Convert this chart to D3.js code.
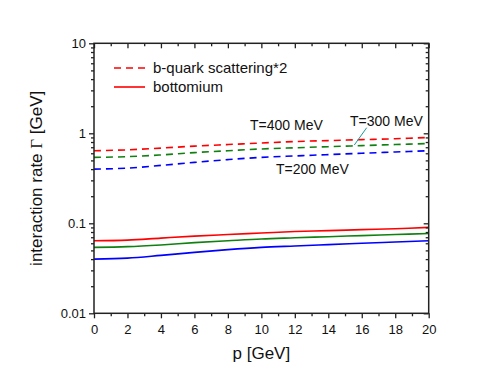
<!DOCTYPE html>
<html>
<head>
<meta charset="utf-8">
<script src="https://cdn.jsdelivr.net/npm/d3@7"></script>
<style>
  body { margin: 0; background: #fff; }
  text { font-family: "Liberation Sans", Arial, sans-serif; fill: #111; }
</style>
</head>
<body>
<script>
// momentum grid (GeV)
var pValues = [0, 2, 4, 6, 8, 10, 12, 14, 16, 18, 20];

// b-quark scattering * 2 (dashed)
var scatT400 = [0.64, 0.655, 0.685, 0.72, 0.75, 0.78, 0.81, 0.83, 0.85, 0.87, 0.90];
var scatT300 = [0.54, 0.55, 0.575, 0.61, 0.64, 0.67, 0.69, 0.71, 0.73, 0.75, 0.77];
var scatT200 = [0.40, 0.41, 0.44, 0.475, 0.51, 0.54, 0.56, 0.58, 0.60, 0.62, 0.64];

// bottomium (solid)
var bottT400 = [0.064, 0.065, 0.0685, 0.072, 0.075, 0.078, 0.081, 0.083, 0.085, 0.087, 0.090];
var bottT300 = [0.054, 0.055, 0.0575, 0.061, 0.064, 0.067, 0.069, 0.071, 0.073, 0.075, 0.077];
var bottT200 = [0.040, 0.041, 0.044, 0.0475, 0.051, 0.054, 0.056, 0.058, 0.060, 0.062, 0.064];

var xMajor = [0, 2, 4, 6, 8, 10, 12, 14, 16, 18, 20];
var xMinor = [1, 3, 5, 7, 9, 11, 13, 15, 17, 19];
var yMajor = [0.01, 0.1, 1, 10];
var yLabels = ['0.01', '0.1', '1', '10'];

var W = 491, H = 376;
var pL = 94, pR = 428.7, pT = 43.3, pB = 313.3;

var svg = d3.select('body').append('svg')
    .attr('width', W)
    .attr('height', H);

var x = d3.scaleLinear().domain([0, 20]).range([pL, pR]);
var y = d3.scaleLog().domain([0.01, 10]).range([pB, pT]);

// minor log ticks 2..9 in each decade
var yMinor = [];
[0.01, 0.1, 1].forEach(function(d) {
    for (var k = 2; k <= 9; k++) yMinor.push(d * k);
});

var series = [
    { vals: scatT400, color: '#ff0000', dash: '7,5' },
    { vals: scatT300, color: '#108010', dash: '7,5' },
    { vals: scatT200, color: '#0000ff', dash: '7,5' },
    { vals: bottT400, color: '#ff0000', dash: null },
    { vals: bottT300, color: '#108010', dash: null },
    { vals: bottT200, color: '#0000ff', dash: null }
];

var line = d3.line()
    .x(function(d, i) { return x(pValues[i]); })
    .y(function(d) { return y(d); })
    .curve(d3.curveCatmullRom.alpha(0.5));

svg.selectAll('path.curve')
    .data(series)
    .enter().append('path')
    .attr('class', 'curve')
    .attr('d', function(d) { return line(d.vals); })
    .attr('fill', 'none')
    .attr('stroke', function(d) { return d.color; })
    .attr('stroke-width', 1.6)
    .attr('stroke-dasharray', function(d) { return d.dash; });

function styleAxis(g) {
    g.select('.domain').remove();
    g.selectAll('line').attr('stroke', '#222').attr('stroke-width', 1.3);
    g.selectAll('text').attr('font-size', '13px').attr('fill', '#111')
        .attr('font-family', '"Liberation Sans", Arial, sans-serif');
}

// bottom
svg.append('g').attr('transform', 'translate(0,' + pB + ')')
    .call(d3.axisBottom(x).tickValues(xMajor).tickSize(5).tickPadding(6).tickFormat(d3.format('d')))
    .call(styleAxis);
svg.append('g').attr('transform', 'translate(0,' + pB + ')')
    .call(d3.axisBottom(x).tickValues(xMinor).tickSize(3).tickFormat(''))
    .call(styleAxis);
// top (ticks inward)
svg.append('g').attr('transform', 'translate(0,' + pT + ')')
    .call(d3.axisBottom(x).tickValues(xMajor).tickSize(5).tickFormat(''))
    .call(styleAxis);
svg.append('g').attr('transform', 'translate(0,' + pT + ')')
    .call(d3.axisBottom(x).tickValues(xMinor).tickSize(3).tickFormat(''))
    .call(styleAxis);
// left
svg.append('g').attr('transform', 'translate(' + pL + ',0)')
    .call(d3.axisLeft(y).tickValues(yMajor).tickSize(5).tickPadding(3)
        .tickFormat(function(d, i) { return yLabels[i]; }))
    .call(styleAxis);
svg.append('g').attr('transform', 'translate(' + pL + ',0)')
    .call(d3.axisLeft(y).tickValues(yMinor).tickSize(3).tickFormat(''))
    .call(styleAxis);
// right (ticks inward)
svg.append('g').attr('transform', 'translate(' + pR + ',0)')
    .call(d3.axisLeft(y).tickValues(yMajor).tickSize(5).tickFormat(''))
    .call(styleAxis);
svg.append('g').attr('transform', 'translate(' + pR + ',0)')
    .call(d3.axisLeft(y).tickValues(yMinor).tickSize(3).tickFormat(''))
    .call(styleAxis);

// frame
svg.append('rect')
    .attr('x', pL).attr('y', pT)
    .attr('width', pR - pL).attr('height', pB - pT)
    .attr('fill', 'none').attr('stroke', '#222').attr('stroke-width', 1.5);

// axis titles
svg.append('text')
    .attr('x', (pL + pR) / 2).attr('y', 359)
    .attr('text-anchor', 'middle').attr('font-size', '17px')
    .text('p [GeV]');

var yt = svg.append('text')
    .attr('transform', 'translate(42,' + ((pT + pB) / 2) + ') rotate(-90)')
    .attr('text-anchor', 'middle').attr('font-size', '17px');
yt.append('tspan').text('interaction rate ');
yt.append('tspan').attr('font-family', '"Liberation Serif", "Times New Roman", serif').text('Γ');
yt.append('tspan').text(' [GeV]');

// legend
var legend = [
    { label: 'b-quark scattering*2', dash: '7,5', ly: 68 },
    { label: 'bottomium', dash: null, ly: 87 }
];
var lg = svg.selectAll('g.legend').data(legend).enter().append('g').attr('class', 'legend');
lg.append('line')
    .attr('x1', 114).attr('x2', 145)
    .attr('y1', function(d) { return d.ly; }).attr('y2', function(d) { return d.ly; })
    .attr('stroke', '#ff0000').attr('stroke-width', 1.6)
    .attr('stroke-dasharray', function(d) { return d.dash; });
lg.append('text')
    .attr('x', 153).attr('y', function(d) { return d.ly + 5; })
    .attr('font-size', '15px')
    .text(function(d) { return d.label; });

// temperature annotations
svg.append('text').attr('x', 250).attr('y', 130).attr('font-size', '14px').text('T=400 MeV');
svg.append('text').attr('x', 350).attr('y', 126).attr('font-size', '14px').text('T=300 MeV');
svg.append('text').attr('x', 276).attr('y', 174).attr('font-size', '14px').text('T=200 MeV');
svg.append('line')
    .attr('x1', 366.7).attr('y1', 127.7).attr('x2', 354.3).attr('y2', 145)
    .attr('stroke', '#1a9a9a').attr('stroke-width', 1);
</script>
</body>
</html>
